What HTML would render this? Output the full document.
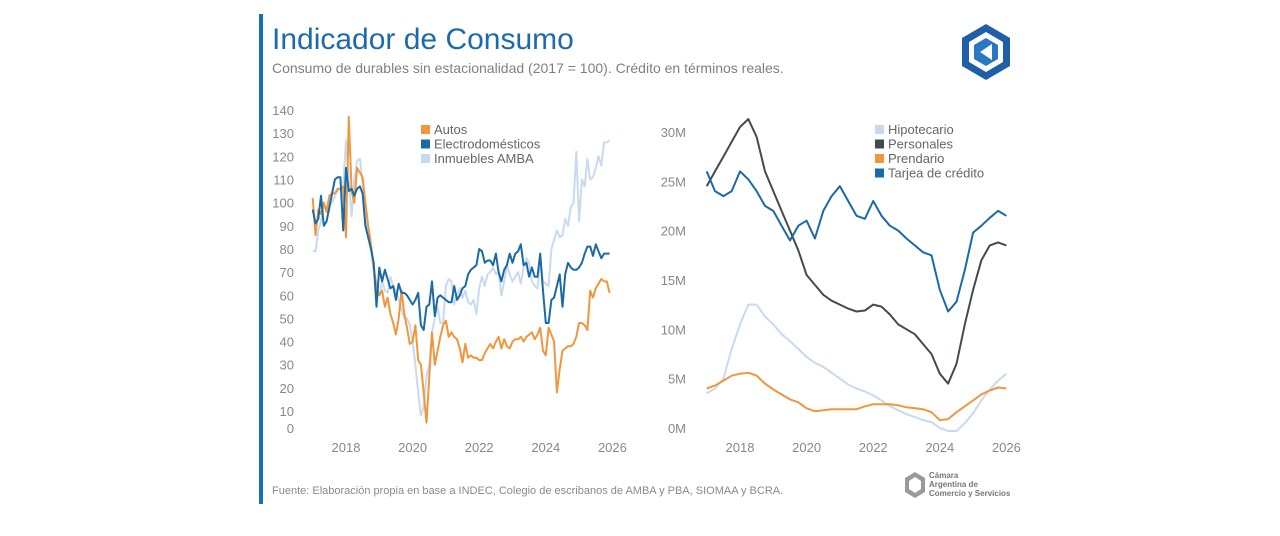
<!DOCTYPE html>
<html><head><meta charset="utf-8"><style>
html,body{margin:0;padding:0;background:#fff;}
body{width:1280px;height:531px;overflow:hidden;font-family:"Liberation Sans",sans-serif;}
svg text{font-family:"Liberation Sans",sans-serif;}
</style></head><body>
<svg id="root" width="1280" height="531" viewBox="0 0 1280 531">
<rect x="259" y="14" width="4" height="490" fill="#1a6fb3"/>
<text x="272" y="49" font-size="30" fill="#1d6aab">Indicador de Consumo</text>
<text x="272" y="73" font-size="14" fill="#7f7f7f">Consumo de durables sin estacionalidad (2017 = 100). Crédito en términos reales.</text>
<g>
<polygon points="986,24 1010,38 1010,66 986,80 962,66 962,38" fill="#1f5fa8"/>
<polygon points="986,32 1003,42 1003,62 986,72 969,62 969,42" fill="#fff"/>
<polygon points="986,38 998,45 998,59 986,66 974,59 974,45" fill="#2a78c4"/>
<polygon points="992,44 992,60 980,52" fill="#fff"/>
</g>
<g id="left"></g>
<g id="right"></g>
<text x="272" y="494" font-size="11" fill="#8a8a8a">Fuente: Elaboración propia en base a INDEC, Colegio de escribanos de AMBA y PBA, SIOMAA y BCRA.</text>
<g>
<polygon points="915,472 925,478 925,492 915,498 905,492 905,478" fill="#9a9a9a"/>
<polygon points="915,477 921,481 921,489 915,493 909,489 909,481" fill="#fff"/>
<text x="929" y="478" font-size="8" font-weight="bold" fill="#777">Cámara</text>
<text x="929" y="487" font-size="8" font-weight="bold" fill="#777">Argentina de</text>
<text x="929" y="496" font-size="8" font-weight="bold" fill="#777">Comercio y Servicios</text>
</g>
</svg>
<script>
const NS="http://www.w3.org/2000/svg";
const leftYTicks=[0,10,20,30,40,50,60,70,80,90,100,110,120,130,140];
const xTickYears=[2018,2020,2022,2024,2026];
const autos=[102,86,97,95,100,96,103,104,104,106,106,107,
85,137,105,100,115,113,111,100,90,82,72,64,
60,62,55,59,52,48,43,50,62,52,46,39,
40,47,32,30,18,5,25,44,30,36,42,47,
49,42,44,42,41,37,31,39,33,34,33,33,
32,32,35,37,39,37,40,42,37,41,38,37,
40,41,41,42,40,42,43,44,41,43,46,36,
34,46,43,40,18,28,36,37,38,38,39,42,
48,48,47,45,62,59,63,65,67,66,66,61];
const electro=[97,91,93,103,90,92,98,104,110,111,111,88,
115,105,106,103,106,107,104,90,85,80,74,55,
72,66,71,67,63,64,58,65,61,61,60,58,
56,58,61,47,45,55,56,66,51,59,60,59,
58,57,57,64,58,60,63,64,69,71,72,73,
80,79,74,75,75,73,78,70,66,71,73,78,
74,78,79,82,73,74,68,72,68,68,78,62,
48,48,58,59,64,69,55,69,74,72,71,71,
72,74,78,81,81,77,82,79,76,78,78,78];
const inmuebles=[79,79,88,92,98,98,101,100,103,105,106,107,
127,110,94,110,118,119,108,95,88,80,70,62,
60,66,62,61,68,64,62,58,54,50,50,47,
40,30,18,8,12,25,30,44,50,55,48,48,
64,67,66,56,60,63,59,62,57,56,58,52,
63,68,64,69,70,72,69,70,60,66,73,69,
66,68,70,65,72,76,74,66,64,63,75,66,
65,64,80,84,88,85,86,93,90,98,100,122,
92,110,107,119,110,111,115,120,116,126,126,127];
const rightYTicks=[0,5,10,15,20,25,30];
const personales=[24.5,26,27.5,29,30.5,31.3,29.5,26,24,22,20,18,15.5,14.5,13.5,12.9,12.5,12.1,11.8,11.9,12.5,12.3,11.5,10.5,10,9.5,8.5,7.5,5.5,4.5,6.5,10.5,14,17,18.5,18.8,18.5];
const tarjeta=[26,24,23.5,24,26,25.2,24,22.5,22,20.5,19,20.5,21,19.2,22,23.5,24.5,23,21.5,21.2,23,21.5,20.5,20,19.2,18.5,17.8,17.5,14,11.8,12.8,16,19.8,20.5,21.3,22,21.5];
const hipotecario=[3.5,4,5,8,10.5,12.5,12.5,11.3,10.5,9.5,8.8,8,7.2,6.6,6.2,5.6,5,4.4,4,3.7,3.3,2.8,2.2,1.8,1.4,1.1,0.8,0.6,0,-0.3,-0.3,0.5,1.5,2.8,3.9,4.8,5.5];
const prendario=[4,4.3,4.8,5.3,5.5,5.6,5.3,4.5,3.9,3.4,2.9,2.6,2.0,1.7,1.8,1.9,1.9,1.9,1.9,2.2,2.4,2.4,2.4,2.3,2.1,2.0,1.9,1.6,0.8,0.9,1.6,2.2,2.8,3.4,3.8,4.1,4.0];

function mk(parent,tag,attrs){const e=document.createElementNS(NS,tag);for(const k in attrs)e.setAttribute(k,attrs[k]);parent.appendChild(e);return e;}
const lxs=t=>346+(t-2018)*33.3;
const lys=v=>411-(v-10)*2.315;
const rxs=t=>740+(t-2018)*33.3;
const rys=v=>428-v*9.87;
const L=document.getElementById('left'),R=document.getElementById('right');

leftYTicks.forEach(v=>{const t=mk(L,'text',{x:294,y:(v===0?428:lys(v))+5,'font-size':13,fill:'#888','text-anchor':'end'});t.textContent=v;

});
xTickYears.forEach(y=>{const t=mk(L,'text',{x:lxs(y),y:452,'font-size':13,fill:'#888','text-anchor':'middle'});t.textContent=y;

});
function lineM(g,arr,xs,ys,col,w,name,step,start){
 const pts=arr.map((v,i)=>xs(start+i*step).toFixed(1)+','+ys(v).toFixed(1)).join(' ');
 const p=mk(g,'polyline',{points:pts,fill:'none',stroke:col,'stroke-width':w,'stroke-linejoin':'round'});
 
 
}
lineM(L,inmuebles,lxs,lys,'#c9daee',2,'inmuebles-line',1/12,2017);
lineM(L,autos,lxs,lys,'#f0973d',2,'autos-line',1/12,2017);
lineM(L,electro,lxs,lys,'#1a6aa6',2,'electro-line',1/12,2017);
function legend(g,x,y,items){items.forEach((it,i)=>{
 const r=mk(g,'rect',{x:x,y:y+i*14.5-9,width:9,height:9,fill:it[1]});
 
 
 const t=mk(g,'text',{x:x+13,y:y+i*14.5,'font-size':13,fill:'#666'});t.textContent=it[0];
 
 });}
legend(L,421,134,[['Autos','#f0973d'],['Electrodomésticos','#1a6aa6'],['Inmuebles AMBA','#c9daee']]);

rightYTicks.forEach(v=>{const t=mk(R,'text',{x:686,y:rys(v)+5,'font-size':13,fill:'#888','text-anchor':'end'});t.textContent=v+'M';

});
xTickYears.forEach(y=>{const t=mk(R,'text',{x:rxs(y),y:452,'font-size':13,fill:'#888','text-anchor':'middle'});t.textContent=y;

});
lineM(R,hipotecario,rxs,rys,'#c9daee',2,'hipotecario-line',0.25,2017);
lineM(R,prendario,rxs,rys,'#f0973d',2,'prendario-line',0.25,2017);
lineM(R,personales,rxs,rys,'#444b4f',2,'personales-line',0.25,2017);
lineM(R,tarjeta,rxs,rys,'#1a6aa6',2,'tarjeta-line',0.25,2017);
legend(R,875,134,[['Hipotecario','#c9daee'],['Personales','#444b4f'],['Prendario','#f0973d'],['Tarjea de crédito','#1a6aa6']]);
</script>
</body></html>
